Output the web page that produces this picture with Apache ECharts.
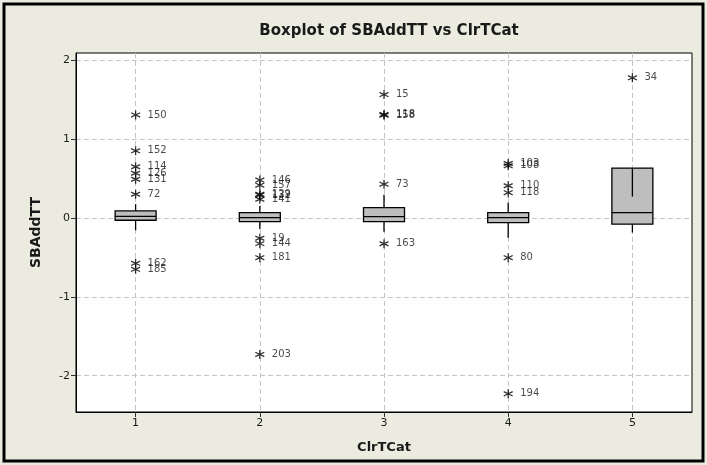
<!DOCTYPE html>
<html>
<head>
<meta charset="utf-8">
<script src="https://cdn.jsdelivr.net/npm/echarts@6/dist/echarts.min.js"></script>
<style>
html,body{margin:0;padding:0;background:#fff;}
#chart{width:707px;height:465px;}
</style>
</head>
<body>
<div id="chart"></div>
<script>
// ---- data ----
const categories = [1, 2, 3, 4, 5];
const categoryLabels = ['1', '2', '3', '4', '5'];
const yTicks = [-2, -1, 0, 1, 2];
const whiskerLow = [-0.156, -0.14, -0.174, -0.25, -0.186];
const boxQ1 = [-0.03, -0.047, -0.047, -0.06, -0.08];
const boxMedian = [0.02, 0.004, 0.017, 0.004, 0.068];
const boxQ3 = [0.089, 0.068, 0.131, 0.068, 0.632];
const whiskerHigh = [0.174, 0.15, 0.292, 0.195, 0.27];

const outlierCat = [1, 1, 1, 1, 1, 1, 1, 1,
                    2, 2, 2, 2, 2, 2, 2, 2, 2,
                    3, 3, 3, 3, 3,
                    4, 4, 4, 4, 4, 4,
                    5];
const outlierValue = [1.305, 0.85, 0.648, 0.566, 0.49, 0.30, -0.576, -0.652,
                      0.479, 0.415, 0.30, 0.288, 0.237, -0.258, -0.326, -0.504, -1.73,
                      1.563, 1.31, 1.30, 0.428, -0.327,
                      0.69, 0.66, 0.407, 0.32, -0.504, -2.23,
                      1.775];
const outlierLabel = ['150', '152', '114', '126', '131', '72', '162', '185',
                      '146', '157', '129', '132', '141', '19', '144', '181', '203',
                      '15', '118', '158', '73', '163',
                      '103', '108', '110', '118', '80', '194',
                      '34'];

// ---- chart ----
const chart = echarts.init(document.getElementById('chart'), null, {renderer: 'canvas'});
const FONT = 'DejaVu Sans';
const TXT = '#1a1a1a';

const boxData = categories.map((c, i) => [c, whiskerLow[i], boxQ1[i], boxMedian[i], boxQ3[i], whiskerHigh[i]]);
const outData = outlierCat.map((c, i) => ({value: [c, outlierValue[i]], name: outlierLabel[i]}));

const asterisk = 'path://M5,0 L5,10 M0.8,2.6 L9.2,7.4 M0.8,7.4 L9.2,2.6';

const option = {
  backgroundColor: '#ECEBE0',
  animation: false,
  title: {
    text: 'Boxplot of SBAddTT vs ClrTCat',
    left: 384, top: 19, textAlign: 'center',
    textStyle: {fontFamily: FONT, fontSize: 15, fontWeight: 'bold', color: TXT}
  },
  grid: {
    left: 76, right: 15, top: 53, bottom: 53,
    show: true, backgroundColor: '#ffffff', borderColor: '#000', borderWidth: 1
  },
  xAxis: {
    type: 'value', min: 0.52, max: 5.48,
    name: 'ClrTCat', nameLocation: 'middle', nameGap: 29,
    nameTextStyle: {fontFamily: FONT, fontSize: 13, fontWeight: 'bold', color: TXT},
    axisLine: {show: true, onZero: false, lineStyle: {color: '#000'}},
    axisTick: {show: true, length: 5, customValues: categories, lineStyle: {color: '#333'}},
    axisLabel: {customValues: categories, margin: 6, fontFamily: FONT, fontSize: 11, color: TXT,
      formatter: v => categoryLabels[categories.indexOf(v)] || ''},
    splitLine: {show: true, lineStyle: {color: '#c4c4c4', type: [5, 3]}}
  },
  yAxis: {
    type: 'value', min: -2.46, max: 2.09,
    name: 'SBAddTT', nameLocation: 'middle', nameGap: 33, nameRotate: 90,
    nameTextStyle: {fontFamily: FONT, fontSize: 14, fontWeight: 'bold', color: TXT},
    axisLine: {show: true, onZero: false, lineStyle: {color: '#000'}},
    axisTick: {show: true, length: 5, customValues: yTicks, lineStyle: {color: '#333'}},
    axisLabel: {customValues: yTicks, margin: 6, fontFamily: FONT, fontSize: 11, color: TXT},
    splitLine: {show: true, lineStyle: {color: '#c4c4c4', type: [5, 3]}}
  },
  graphic: [{
    type: 'rect', shape: {x: 4, y: 4, width: 699, height: 457},
    style: {fill: 'none', stroke: '#000', lineWidth: 3}, z: 100
  }],
  series: [{
    type: 'custom',
    data: boxData,
    z: 5,
    renderItem: function (params, api) {
      const x = api.value(0);
      const pLow = api.coord([x, api.value(1)]);
      const pQ1 = api.coord([x, api.value(2)]);
      const pMed = api.coord([x, api.value(3)]);
      const pQ3 = api.coord([x, api.value(4)]);
      const pHigh = api.coord([x, api.value(5)]);
      const w = api.size([0.33, 0])[0];
      const cx = pQ1[0];
      const ls = {stroke: '#000', lineWidth: 1.3};
      return {
        type: 'group',
        children: [
          {type: 'line', shape: {x1: cx, y1: pQ1[1], x2: cx, y2: pLow[1]}, style: ls},
          {type: 'rect', shape: {x: cx - w / 2, y: pQ3[1], width: w, height: pQ1[1] - pQ3[1]},
            style: {fill: '#BEBEBE', stroke: '#000', lineWidth: 1.3}},
          {type: 'line', shape: {x1: cx - w / 2, y1: pMed[1], x2: cx + w / 2, y2: pMed[1]}, style: ls},
          {type: 'line', shape: {x1: cx, y1: pQ3[1], x2: cx, y2: pHigh[1]}, style: ls}
        ]
      };
    }
  }, {
    type: 'scatter',
    data: outData,
    z: 6,
    symbol: asterisk,
    symbolSize: 9,
    itemStyle: {color: 'none', borderColor: '#000', borderWidth: 1.3},
    label: {
      show: true, position: 'right', distance: 5,
      formatter: p => p.name,
      fontFamily: FONT, fontSize: 10, color: TXT
    }
  }]
};
chart.setOption(option);
</script>
</body>
</html>
